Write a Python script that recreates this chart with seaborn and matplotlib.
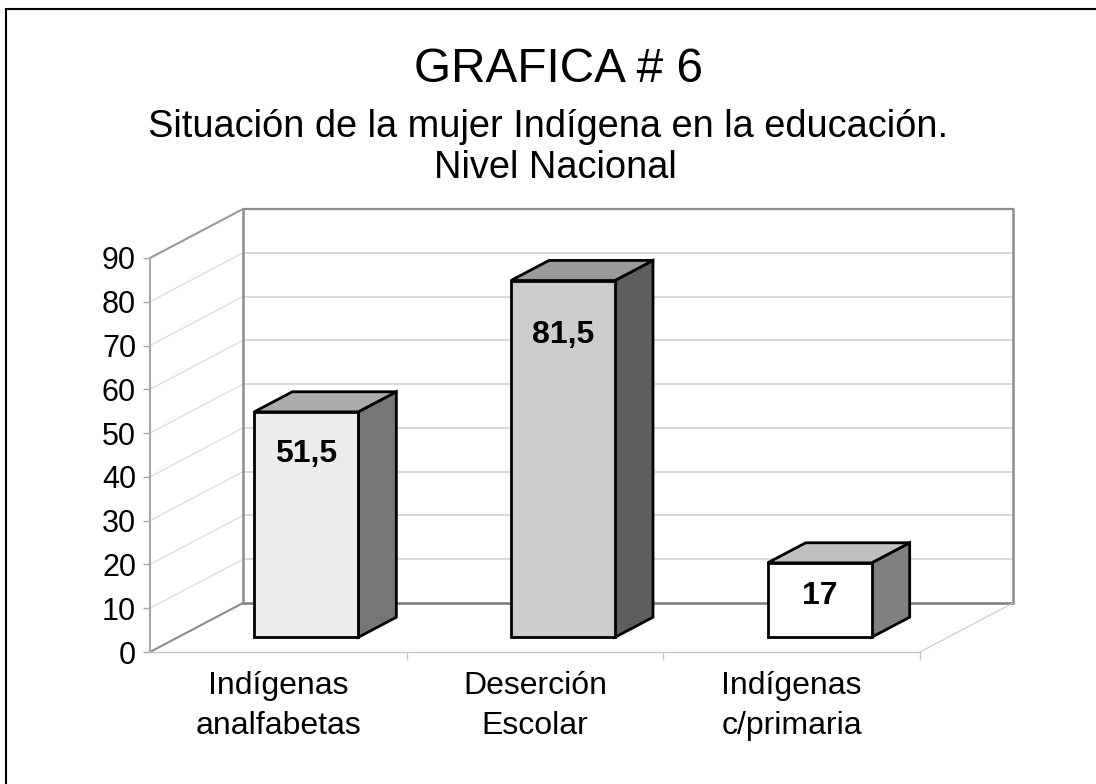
import matplotlib
matplotlib.use("Agg")
import matplotlib.pyplot as plt
from matplotlib.patches import Polygon
from matplotlib.lines import Line2D
import seaborn as sns

# Data
categories = ["Indígenas\nanalfabetas", "Deserción\nEscolar", "Indígenas\nc/primaria"]
values = [51.5, 81.5, 17]
value_labels = ["51,5", "81,5", "17"]
y_ticks = [0, 10, 20, 30, 40, 50, 60, 70, 80, 90]

title = "GRAFICA # 6"
subtitle_1 = "Situación de la mujer Indígena en la educación."
subtitle_2 = "Nivel Nacional"

# Styling
front_colors = ["#ececec", "#cdcdcd", "#ffffff"]
top_colors = ["#ababab", "#9a9a9a", "#c0c0c0"]
side_colors = ["#767676", "#5e5e5e", "#808080"]
label_drop = [30, 39, 24]  # points below the top edge of each bar

W, H = 1096, 784

sns.set_style("white")
plt.rcParams["font.family"] = ["Liberation Sans", "DejaVu Sans"]
plt.rcParams.update({"text.color": "black", "xtick.labelcolor": "black",
                     "ytick.labelcolor": "black"})

fig = plt.figure(figsize=(W / 100, H / 100), dpi=100)
# the axes box is the front plane of the 3D chart
ax = fig.add_axes([150 / W, 1 - 652 / H, 770 / W, 394 / H])

# depth of the floor expressed in data units (93 px right, 49 px up)
depth_x = 93 / (770 / 3)
depth_y = 49 / (394 / 90)
bar_start, bar_depth = 0.30, 0.41
bar_width = 0.405

# front faces of the bars
sns.barplot(x=categories, y=values, hue=categories, palette=front_colors,
            width=bar_width, edgecolor="black", linewidth=2, legend=False,
            ax=ax, zorder=6)

fx, fy = bar_start * depth_x, bar_start * depth_y
bdx, bdy = bar_depth * depth_x, bar_depth * depth_y
for i, p in enumerate(ax.patches[:len(values)]):
    p.set_x(p.get_x() + fx)
    p.set_y(fy)
    x0 = p.get_x()
    x1 = x0 + p.get_width()
    v = p.get_height()
    top = Polygon([(x0, fy + v), (x1, fy + v), (x1 + bdx, fy + v + bdy), (x0 + bdx, fy + v + bdy)],
                  closed=True, facecolor=top_colors[i], edgecolor="black", lw=2,
                  joinstyle="miter", zorder=5, clip_on=False)
    side = Polygon([(x1, fy), (x1 + bdx, fy + bdy), (x1 + bdx, fy + bdy + v), (x1, fy + v)],
                   closed=True, facecolor=side_colors[i], edgecolor="black", lw=2,
                   joinstyle="miter", zorder=5, clip_on=False)
    ax.add_patch(side)
    ax.add_patch(top)
    ax.annotate(value_labels[i], xy=((x0 + x1) / 2, fy + v), xytext=(0, -label_drop[i]),
                textcoords="offset points", ha="center", va="center",
                fontsize=23, fontweight="bold", color="black", zorder=7)

ax.set_xlim(-0.5, 2.5)
ax.set_ylim(0, 90)

# back wall and left wall
bx0, bx1 = -0.5 + depth_x, 2.5 + depth_x
for t in y_ticks[1:-1]:
    ax.plot([bx0, bx1], [t + depth_y, t + depth_y], color="#d0d0d0", lw=1.1, clip_on=False, zorder=1)
    ax.plot([-0.5, bx0], [t, t + depth_y], color="#d8d8d8", lw=0.8, clip_on=False, zorder=1)
ax.plot([bx0, bx1], [90 + depth_y, 90 + depth_y], color="#8c8c8c", lw=1.6, clip_on=False, zorder=2)
ax.plot([bx0, bx1], [depth_y, depth_y], color="#7c7c7c", lw=1.8, clip_on=False, zorder=2)
ax.plot([bx0, bx0], [depth_y, 90 + depth_y], color="#8c8c8c", lw=1.8, clip_on=False, zorder=2)
ax.plot([bx1, bx1], [depth_y, 90 + depth_y], color="#8c8c8c", lw=1.8, clip_on=False, zorder=2)
ax.plot([-0.5, bx0], [90, 90 + depth_y], color="#999999", lw=1.5, clip_on=False, zorder=2)
ax.plot([-0.5, bx0], [0, depth_y], color="#8c8c8c", lw=1.5, clip_on=False, zorder=2)
ax.plot([2.5, bx1], [0, depth_y], color="#c8c8c8", lw=0.8, clip_on=False, zorder=2)

# axes styling
sns.despine(ax=ax)
ax.spines["left"].set_color("#a8a8a8")
ax.spines["left"].set_linewidth(1.5)
ax.spines["bottom"].set_color("#c4c4c4")
ax.spines["bottom"].set_linewidth(1.0)
ax.set_yticks(y_ticks)
ax.set_yticklabels([str(t) for t in y_ticks], fontsize=22)
ax.tick_params(axis="y", left=True, length=5, width=1, color="#a8a8a8", pad=5, labelcolor="black")
ax.set_xticks(range(len(categories)))
ax.set_xticklabels(categories, fontsize=23, linespacing=1.43)
ax.set_xticks([0.5, 1.5, 2.5], minor=True)
ax.tick_params(axis="x", which="major", length=0, pad=14, labelcolor="black")
ax.tick_params(axis="x", which="minor", bottom=True, length=6, width=1, color="#c4c4c4")
ax.set_xlabel("")
ax.set_ylabel("")
ax.grid(False)

# titles
fig.text(559 / W, 1 - 82 / H, title, ha="center", va="baseline", fontsize=34.4)
fig.text(548 / W, 1 - 137 / H, subtitle_1, ha="center", va="baseline", fontsize=27.4)
fig.text(555 / W, 1 - 178 / H, subtitle_2, ha="center", va="baseline", fontsize=27.4)

# outer chart frame (only top and left edges fall inside the image)
fig.add_artist(Line2D([6 / W, 6 / W], [0, 1 - 9 / H], transform=fig.transFigure, color="black", lw=1.5))
fig.add_artist(Line2D([6 / W, 1], [1 - 9 / H, 1 - 9 / H], transform=fig.transFigure, color="black", lw=1.5))

fig.savefig("out.png", dpi=100)
